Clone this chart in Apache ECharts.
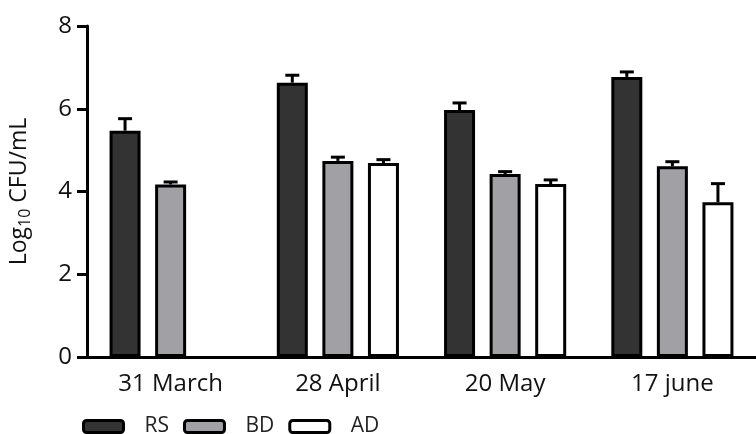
<!DOCTYPE html>
<html>
<head>
<meta charset="utf-8">
<script src="https://cdn.jsdelivr.net/npm/echarts@6/dist/echarts.min.js"></script>
<style>html,body{margin:0;padding:0;background:#fff}#c{width:756px;height:434px}</style>
</head>
<body>
<div id="c"></div>
<script>
const categories = ['31 March', '28 April', '20 May', '17 june'];
const seriesNames = ['RS', 'BD', 'AD'];
const rsValues = [5.47, 6.63, 5.97, 6.77];
const bdValues = [4.17, 4.74, 4.42, 4.61];
const adValues = [null, 4.69, 4.18, 3.74];
const rsErrors = [0.29, 0.18, 0.17, 0.12];
const bdErrors = [0.06, 0.09, 0.06, 0.11];
const adErrors = [null, 0.08, 0.10, 0.45];
const yTicks = [0, 2, 4, 6, 8];

const FONT = '"Open Sans", "Liberation Sans", sans-serif';
const BAR_W = 31;
const BAR_GAP = 0.47;
const colors = ['#333333', '#a1a1a5', '#ffffff'];
const values = [rsValues, bdValues, adValues];
const errors = [rsErrors, bdErrors, adErrors];

const chart = echarts.init(document.getElementById('c'));

const barSeries = seriesNames.map((name, i) => ({
  name: name,
  type: 'bar',
  barWidth: BAR_W,
  barGap: (BAR_GAP * 100) + '%',
  itemStyle: { color: colors[i], borderColor: '#000', borderWidth: 3 },
  data: values[i],
  z: 2
}));

const errSeries = seriesNames.map((name, i) => {
  const pts = [];
  categories.forEach((c, k) => {
    if (values[i][k] != null) pts.push([k, values[i][k], errors[i][k]]);
  });
  return {
    type: 'custom',
    name: name + '_err',
    z: 3,
    dimensions: ['cat', 'val', 'err'],
    data: pts,
    encode: { x: 0, y: 1 },
    renderItem: function (params, api) {
      const k = api.value(0);
      const v = api.value(1);
      const e = api.value(2);
      const off = (i - 1) * BAR_W * (1 + BAR_GAP);
      const p0 = api.coord([k, v]);
      const p1 = api.coord([k, v + e]);
      const x = p0[0] + off;
      const capHalf = 7;
      return {
        type: 'group',
        children: [
          { type: 'line', shape: { x1: x, y1: p0[1], x2: x, y2: p1[1] }, style: { stroke: '#000', lineWidth: 3 } },
          { type: 'line', shape: { x1: x - capHalf, y1: p1[1], x2: x + capHalf, y2: p1[1] }, style: { stroke: '#000', lineWidth: 3 } }
        ]
      };
    }
  };
});

chart.setOption({
  animation: false,
  backgroundColor: '#fff',
  grid: { left: 87, top: 26, width: 672, height: 331, containLabel: false },
  legend: {
    data: seriesNames,
    left: 82,
    top: 416,
    padding: 0,
    itemWidth: 40,
    itemHeight: 12,
    itemGap: 14,
    icon: 'roundRect',
    itemStyle: { borderColor: '#000', borderWidth: 3 },
    textStyle: { fontFamily: FONT, fontSize: 21, color: '#222', padding: [0, 0, 0, 16] }
  },
  xAxis: {
    type: 'category',
    data: categories,
    axisLine: { lineStyle: { color: '#000', width: 3 } },
    axisTick: { alignWithLabel: true, length: 9, lineStyle: { color: '#000', width: 3 } },
    axisLabel: { fontFamily: FONT, fontSize: 24, color: '#111', margin: 15 },
    z: 5
  },
  yAxis: {
    type: 'value',
    min: 0,
    max: 8,
    interval: 2,
    splitLine: { show: false },
    axisLine: { show: true, lineStyle: { color: '#000', width: 3 } },
    axisTick: { show: true, length: 10, lineStyle: { color: '#000', width: 3 } },
    axisLabel: {
      fontFamily: FONT, fontSize: 24, color: '#111', margin: 15,
      formatter: v => yTicks.includes(v) ? String(v) : ''
    },
    name: '{m|Log}{s|10}{m| CFU/mL}',
    nameLocation: 'middle',
    nameGap: 54,
    nameRotate: 90,
    nameTextStyle: {
      rich: {
        m: { fontFamily: FONT, fontSize: 23, color: '#111' },
        s: { fontFamily: FONT, fontSize: 16, color: '#111', padding: [11, 0, 0, 0] }
      }
    },
    z: 5
  },
  series: barSeries.concat(errSeries)
});
</script>
</body>
</html>
